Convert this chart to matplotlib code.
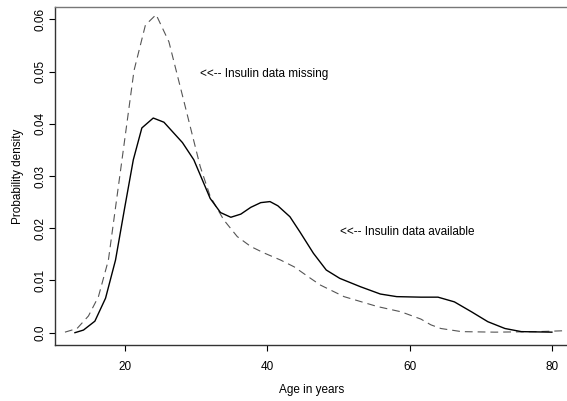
import numpy as np
import matplotlib
matplotlib.use('Agg')
import matplotlib.pyplot as plt

plt.rcParams['font.family'] = ['Liberation Sans', 'DejaVu Sans']

# density with insulin data missing (dashed)
age_missing = [11.6, 13.3, 14.9, 16.3, 17.7, 19.5, 21.3, 22.9, 24.4, 26.2,
               28.4, 30.6, 32.0, 33.9, 35.8, 37.7, 39.5, 41.9, 43.8, 46.1,
               47.5, 50.8, 55.5, 58.8, 61.6, 63.0, 64.4, 67.3, 72.0, 78.0, 82.4]
dens_missing = [0.0001, 0.0008, 0.0032, 0.0069, 0.0139, 0.0320, 0.0502, 0.0589, 0.0609, 0.0557,
                0.0438, 0.0318, 0.0261, 0.0216, 0.0184, 0.0165, 0.0153, 0.0139, 0.0126, 0.0104,
                0.0091, 0.0069, 0.0050, 0.0040, 0.0026, 0.0015, 0.0008, 0.0002, 0.0001, 0.0002, 0.0004]

# density with insulin data available (solid)
age_avail = [13.0, 14.2, 15.8, 17.3, 18.7, 20.0, 21.2, 22.4, 24.0, 25.5,
             28.1, 29.7, 32.0, 33.45, 34.9, 36.3, 37.7, 39.1, 40.4, 41.5,
             43.2, 44.6, 46.5, 48.3, 50.2, 53.1, 55.9, 58.2, 61.6, 64.0,
             66.3, 68.7, 71.0, 73.4, 75.7, 80.0]
dens_avail = [0.0, 0.0005, 0.0022, 0.0066, 0.0139, 0.0240, 0.0331, 0.0392, 0.0411, 0.0403,
              0.0364, 0.0331, 0.0257, 0.0230, 0.0221, 0.0227, 0.0240, 0.0249, 0.0251, 0.0243,
              0.0222, 0.0193, 0.0152, 0.0120, 0.0104, 0.0088, 0.0074, 0.0069, 0.0068, 0.0068,
              0.0059, 0.0040, 0.0021, 0.0008, 0.0002, 0.0001]

xticks = [20, 40, 60, 80]
yticks = [0.0, 0.01, 0.02, 0.03, 0.04, 0.05, 0.06]
ytick_labels = ['0.0', '0.01', '0.02', '0.03', '0.04', '0.05', '0.06']

fig = plt.figure(figsize=(5.67, 4.01), dpi=100)
ax = fig.add_axes([55 / 567, 56 / 401, 514 / 567, 338 / 401])

ax.plot(age_missing, dens_missing, color='#555555', lw=0.8, dashes=(7, 4.5))
ax.plot(age_avail, dens_avail, color='black', lw=1.0)

ax.text(30.6, 0.0496, '<<-- Insulin data missing', fontsize=8.5, va='center', ha='left')
ax.text(50.2, 0.0193, '<<-- Insulin data available', fontsize=8.5, va='center', ha='left')

ax.set_xlim(10.2, 82.4)
ax.set_ylim(-0.00236, 0.06236)
ax.set_xticks(xticks)
ax.set_yticks(yticks)
ax.set_yticklabels(ytick_labels, rotation=90, va='center')
ax.tick_params(axis='both', direction='out', length=4.5, width=0.8, labelsize=8.5, color='black')
ax.tick_params(axis='x', pad=7)
ax.tick_params(axis='y', pad=1.5)

for s in ['left', 'bottom', 'top']:
    ax.spines[s].set_linewidth(1.0)
    ax.spines[s].set_color('#333333')
ax.spines['top'].set_color('#777777')
ax.spines['right'].set_visible(False)

ax.set_xlabel('Age in years', fontsize=8.5, labelpad=8)
ax.set_ylabel('Probability density', fontsize=8.5, labelpad=8)

fig.savefig('out.png', dpi=100)
